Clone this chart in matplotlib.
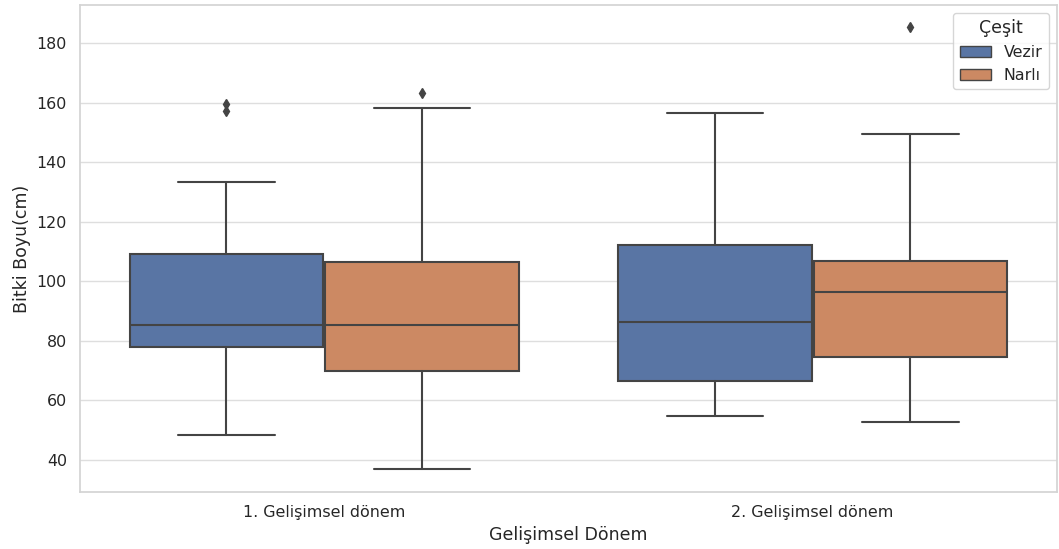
import numpy as np
import matplotlib.pyplot as plt
import seaborn as sns

# box statistics
periods = ["1. Gelişimsel dönem", "2. Gelişimsel dönem"]
varieties = ["Vezir", "Narlı"]
q1 = [[77.9, 69.9], [66.5, 74.6]]
med = [[85.3, 85.3], [86.3, 96.4]]
q3 = [[109.2, 106.5], [112.2, 106.8]]
whis_lo = [[48.4, 37.0], [54.8, 52.8]]
whis_hi = [[133.3, 158.2], [156.5, 149.4]]
outliers = [[[159.5, 157.2], [163.2]], [[], [185.4]]]

sns.set_theme(style="whitegrid")
plt.rcParams['font.family'] = ['DejaVu Sans']
plt.rcParams['grid.color'] = '#dedede'
plt.rcParams['axes.edgecolor'] = '#d4d4d4'

fig, ax = plt.subplots(figsize=(10.59, 5.49), dpi=100)
fig.subplots_adjust(left=0.0755, right=0.998, top=0.991, bottom=0.104)

palette = [sns.desaturate(c, 0.75) for c in sns.color_palette("deep", 2)]
line_col = "#444444"
width = 0.4

for j, name in enumerate(varieties):
    stats = []
    for i in range(len(periods)):
        stats.append(dict(med=med[i][j], q1=q1[i][j], q3=q3[i][j],
                          whislo=whis_lo[i][j], whishi=whis_hi[i][j],
                          fliers=outliers[i][j]))
    pos = np.arange(len(periods)) + (j - 0.5) * width
    ax.bxp(stats, positions=pos, widths=width * 0.99, patch_artist=True,
           manage_ticks=False,
           boxprops=dict(facecolor=palette[j], edgecolor=line_col, linewidth=1.5),
           medianprops=dict(color=line_col, linewidth=1.5),
           whiskerprops=dict(color=line_col, linewidth=1.5),
           capprops=dict(color=line_col, linewidth=1.5),
           flierprops=dict(marker='d', markerfacecolor=line_col,
                           markeredgecolor=line_col, markersize=5))

ax.set_xticks(range(len(periods)))
ax.set_xticklabels(periods)
ax.set_xlim(-0.5, 1.5)
ax.set_ylim(29.3, 192.8)
ax.set_yticks(range(40, 181, 20))
ax.xaxis.grid(False)
ax.set_xlabel("Gelişimsel Dönem", fontsize=12.5)
ax.set_ylabel("Bitki Boyu(cm)", fontsize=12.5)
ax.tick_params(labelsize=11.4)

handles = [plt.Rectangle((0, 0), 1, 1, facecolor=palette[k], edgecolor=line_col,
                         linewidth=1.0) for k in range(2)]
ax.legend(handles, varieties, title="Çeşit", loc="upper right",
          fontsize=11.4, title_fontsize=12.5)

plt.savefig("out.png", dpi=100)
plt.close(fig)
